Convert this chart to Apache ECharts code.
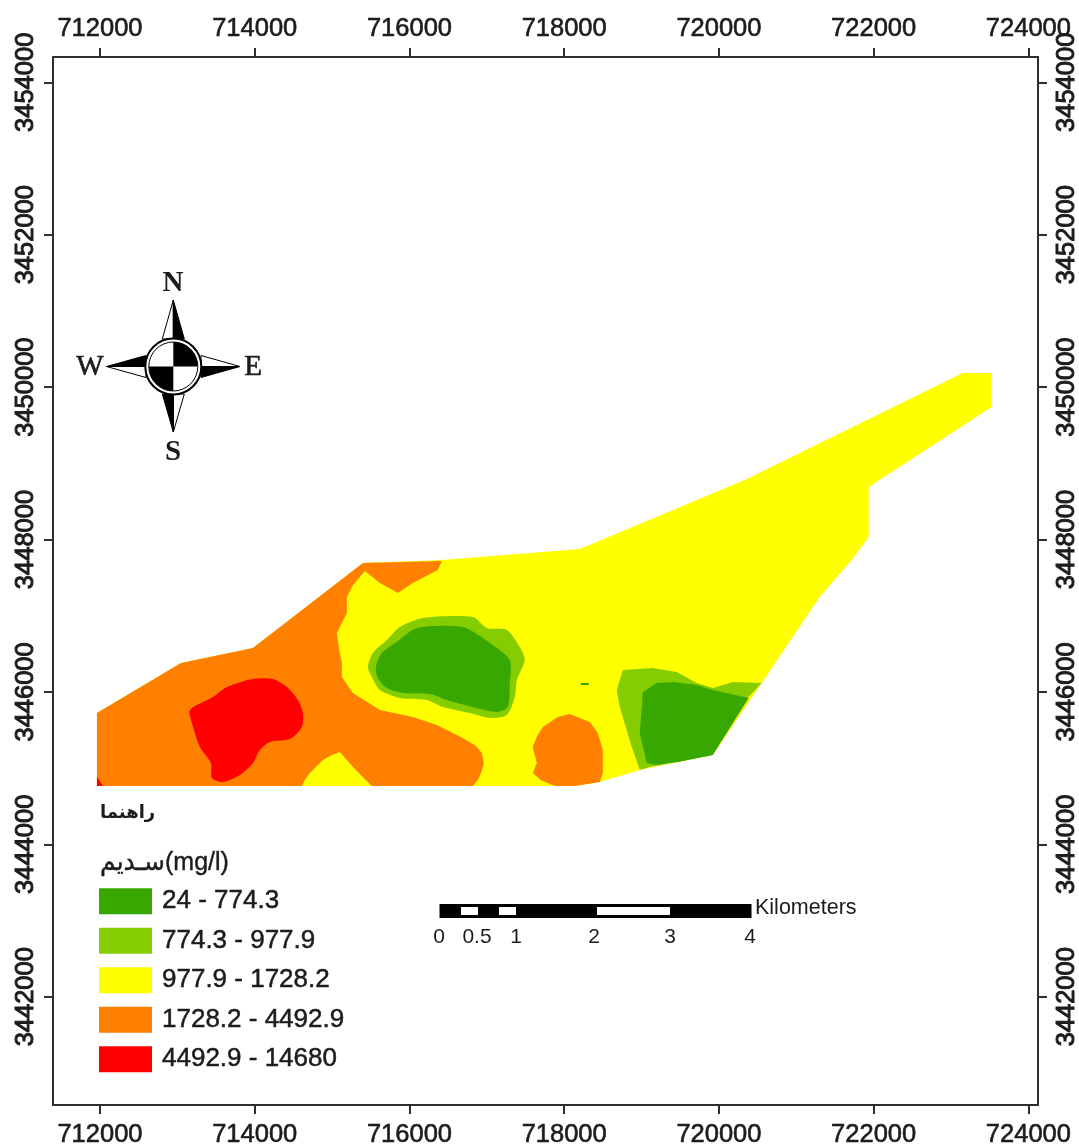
<!DOCTYPE html>
<html>
<head>
<meta charset="utf-8">
<style>html,body{margin:0;padding:0;background:#fff}#c{width:1079px;height:1144px}</style>
<script src="https://cdn.jsdelivr.net/npm/echarts@6/dist/echarts.min.js"></script>
</head>
<body>
<div id="c"></div>
<script>
const xTicks = [712000,714000,716000,718000,720000,722000,724000];
const yTicks = [3442000,3444000,3446000,3448000,3450000,3452000,3454000];
const xRange = [711393,724124];
const yRange = [3440579,3454332];

const classNames = ['24 - 774.3','774.3 - 977.9','977.9 - 1728.2','1728.2 - 4492.9','4492.9 - 14680'];
const classColors = ['#38a800','#85cc00','#ffff00','#ff7f00','#ff0000'];

const yellowZones = [[[711961,3444765],[711961,3445723],[713047,3446379],[713977,3446576],[715398,3447692],[716419,3447731],[718202,3447875],[720333,3448781],[723150,3450185],[723525,3450185],[723525,3449739],[721935,3448689],[721935,3448033],[721716,3447731],[721302,3447246],[720553,3446117],[719920,3445172],[718977,3444975],[718460,3444818],[718137,3444765]]];

const orangeZones = [
 [[711961,3444765],[711961,3445723],[713047,3446379],[713977,3446576],[715398,3447692],[715424,3447587],[715270,3447400],[715191,3447246],[715191,3447036],[715062,3446773],[715090,3446560],[715127,3446379],[715127,3446196],[715269,3445986],[715618,3445763],[716044,3445671],[716354,3445566],[716690,3445395],[716860,3445290],[716935,3445198],[716961,3445067],[716930,3444950],[716884,3444844],[716819,3444765],[715514,3444765],[715380,3444900],[715269,3445015],[715101,3445212],[714990,3445170],[714881,3445107],[714713,3444936],[714650,3444850],[714610,3444765]],
 [[715398,3447692],[716419,3447718],[716367,3447600],[716044,3447429],[715850,3447298],[715618,3447429],[715424,3447587]],
 [[717594,3445277],[717650,3445420],[717724,3445540],[717917,3445671],[718072,3445710],[718331,3445605],[718434,3445461],[718499,3445238],[718499,3444936],[718460,3444818],[718137,3444765],[717879,3444765],[717700,3444840],[717594,3444936],[717646,3445067]]
];

const redZones = [
 [[713163,3445763],[713460,3445933],[713641,3446064],[713977,3446170],[714235,3446170],[714416,3446064],[714558,3445894],[714623,3445723],[714610,3445540],[714455,3445382],[714196,3445343],[714067,3445238],[713977,3445067],[713809,3444910],[713589,3444818],[713447,3444870],[713434,3445067],[713292,3445277],[713189,3445592]],
 [[711961,3444883],[712039,3444765],[711961,3444765]]
];

const lightGreenZones = [
 [[715463,3446327],[715527,3446511],[715708,3446681],[715876,3446852],[716173,3446970],[716819,3446983],[717000,3446839],[717258,3446813],[717426,3446589],[717491,3446419],[717388,3446156],[717362,3445933],[717258,3445697],[717039,3445658],[716780,3445723],[716432,3445802],[716225,3445894],[715876,3445920],[715618,3446025],[715514,3446196]],
 [[718680,3446025],[718757,3446288],[719145,3446314],[719455,3446261],[719713,3446117],[719920,3446051],[720178,3446130],[720553,3446117],[720372,3445920],[719920,3445172],[719106,3445015],[718977,3444975],[718873,3445277],[718718,3445802]]
];

const darkGreenZones = [
 [[715566,3446327],[715643,3446511],[715837,3446655],[716096,3446839],[716690,3446852],[717039,3446642],[717297,3446419],[717297,3446117],[717271,3445802],[717129,3445736],[716819,3445802],[716483,3445894],[716264,3445973],[715915,3445986],[715708,3446051],[715592,3446183]],
 [[719016,3445999],[719196,3446117],[719403,3446130],[719713,3446091],[719920,3446025],[720385,3445920],[719920,3445172],[719468,3445080],[719196,3445041],[719067,3445067],[718977,3445461],[719003,3445802]],
 [[718215,3446117],[718318,3446117],[718318,3446091],[718215,3446091]]
];

const legendHeading = 'راهنما';
const layerHeading = 'سـدیم(mg/l)';
const scaleLabels = ['0','0.5','1','2','3','4'];
const scaleUnit = 'Kilometers';

const paintOrder = [
  [2, yellowZones],
  [3, orangeZones],
  [4, redZones],
  [1, lightGreenZones],
  [0, darkGreenZones]
];
const roundedZones = [redZones[0], lightGreenZones[0], darkGreenZones[0]];

const sans = '"Liberation Sans","DejaVu Sans",sans-serif';
const serif = '"Liberation Serif",serif';
const ink = '#1c1c1c';

function zoneSeries(classIndex, zones) {
  return {
    type: 'custom',
    name: classNames[classIndex],
    coordinateSystem: 'cartesian2d',
    xAxisIndex: 0, yAxisIndex: 0,
    itemStyle: {color: classColors[classIndex]},
    data: zones.map(z => z[0]),
    silent: true,
    animation: false,
    renderItem: (params, api) => {
      const zone = zones[params.dataIndex];
      return {
        type: 'polygon',
        shape: {points: zone.map(p => api.coord(p)), smooth: roundedZones.includes(zone) ? 0.25 : 0},
        style: {fill: classColors[classIndex]}
      };
    }
  };
}

function axisBase(pos, ticks, range, rotate, margin) {
  return {
    type: 'value', position: pos, min: range[0], max: range[1], scale: true,
    splitLine: {show: false},
    axisLine: {show: true, onZero: false, lineStyle: {color: '#2e2e2e', width: 2}},
    axisTick: {show: true, length: 9, customValues: ticks, lineStyle: {color: '#2e2e2e', width: 2}},
    axisLabel: {
      show: true, customValues: ticks, rotate: rotate, margin: margin,
      fontFamily: sans, fontSize: 25.5, color: ink,
      textBorderColor: ink, textBorderWidth: rotate ? 1 : 0.6,
      formatter: v => String(v)
    }
  };
}

/* decoration: compass and scale bar */
const cx = 173.3, cy = 366.5;
const black = {fill: '#000', stroke: '#000', lineWidth: 1};
const hollow = {fill: '#fff', stroke: '#000', lineWidth: 1};
function tri(points, style) { return {type: 'polygon', shape: {points}, style}; }
function label(x, y, text, font, size, weight, align, stroke) {
  return {type: 'text', x, y, style: {text, fill: ink, font: (weight||'normal')+' '+size+'px '+font, textAlign: align||'center', textVerticalAlign: 'middle', stroke: stroke ? ink : null, lineWidth: stroke||0}};
}
const compass = [
  tri([[cx,300],[cx-11,339],[cx,339]], hollow),
  tri([[cx,300],[cx+11,339],[cx,339]], black),
  tri([[cx,432],[cx+11,394],[cx,394]], hollow),
  tri([[cx,432],[cx-11,394],[cx,394]], black),
  tri([[240,cy],[201,cy-11],[201,cy]], hollow),
  tri([[240,cy],[201,cy+11],[201,cy]], black),
  tri([[106.5,cy],[146,cy+11],[146,cy]], hollow),
  tri([[106.5,cy],[146,cy-11],[146,cy]], black),
  {type:'circle', shape:{cx,cy,r:28}, style:{fill:'#fff',stroke:'#000',lineWidth:2}},
  {type:'circle', shape:{cx,cy,r:24.5}, style:{fill:'#fff',stroke:'#000',lineWidth:1}},
  {type:'sector', shape:{cx,cy,r:24.5,r0:0,startAngle:-Math.PI/2,endAngle:0}, style:{fill:'#000'}},
  {type:'sector', shape:{cx,cy,r:24.5,r0:0,startAngle:Math.PI/2,endAngle:Math.PI}, style:{fill:'#000'}},
  label(173,284,'N',serif,29,'bold'),
  label(173,453,'S',serif,29,'bold'),
  label(90,367,'W',serif,29,'normal','center',0.6),
  label(253,367,'E',serif,29,'normal','center',0.6)
];
const scaleBar = [
  {type:'rect', shape:{x:439.5,y:904,width:312,height:14}, style:{fill:'#000'}},
  {type:'rect', shape:{x:461,y:907,width:17,height:8}, style:{fill:'#fff'}},
  {type:'rect', shape:{x:499,y:907,width:17,height:8}, style:{fill:'#fff'}},
  {type:'rect', shape:{x:597,y:907,width:73,height:8}, style:{fill:'#fff'}}
];
const scaleX = [439,477,516,594,670,750];
scaleLabels.forEach((t,i) => scaleBar.push(label(scaleX[i],937,t,sans,21)));
scaleBar.push(label(755,908,scaleUnit,sans,21.5,'normal','left'));

const headings = [
  label(100,813,legendHeading,'"DejaVu Sans",sans-serif',18,'bold','left'),
  label(100,863,layerHeading,sans,25,'normal','left',0.4)
];

const chart = echarts.init(document.getElementById('c'), null, {renderer: 'canvas'});
chart.setOption({
  animation: false,
  backgroundColor: '#fff',
  grid: {left: 53, right: 41, top: 57, bottom: 39, containLabel: false, outerBoundsMode: 'none'},
  xAxis: [axisBase('bottom', xTicks, xRange, 0, 17), axisBase('top', xTicks, xRange, 0, 15)],
  yAxis: [axisBase('left', yTicks, yRange, 90, 14), axisBase('right', yTicks, yRange, 90, 16)],
  legend: {
    show: true, orient: 'vertical', left: 99, top: 888, padding: 0,
    itemWidth: 53, itemHeight: 26, itemGap: 13, icon: 'rect',
    data: classNames, selectedMode: false,
    textStyle: {fontFamily: sans, fontSize: 26, color: ink, padding: [0,0,0,5], textBorderColor: ink, textBorderWidth: 0.5}
  },
  tooltip: {show: false},
  series: paintOrder.map(o => zoneSeries(o[0], o[1])),
  graphic: {elements: [{type:'group', silent:true, children: compass.concat(scaleBar, headings)}]}
});
</script>
</body>
</html>
